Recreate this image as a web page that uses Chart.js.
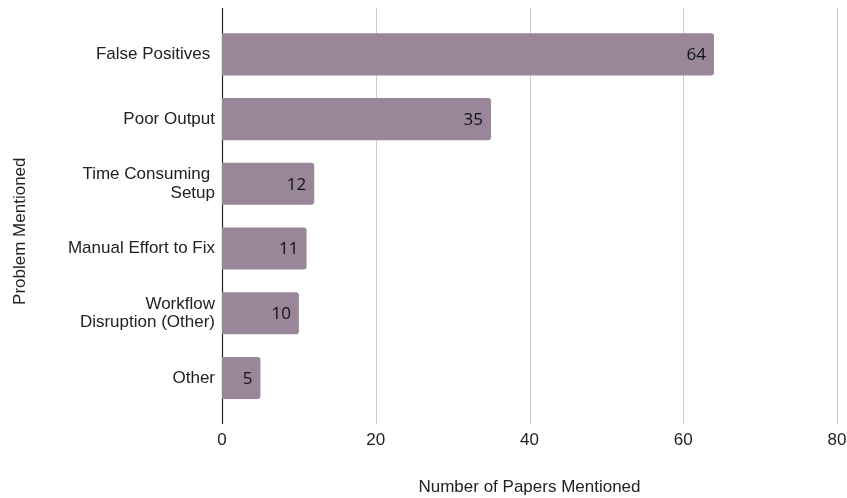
<!DOCTYPE html>
<html>
<head>
<meta charset="utf-8">
<script src="https://cdn.jsdelivr.net/npm/chart.js@4.4.1/dist/chart.umd.min.js"></script>
<style>
  html, body { margin: 0; padding: 0; background: #fff; }
  #wrap { width: 847px; height: 498px; }
</style>
</head>
<body>
<div id="wrap"><canvas id="problems"></canvas></div>
<script>
var problems = [
  "False Positives ",
  "Poor Output",
  ["Time Consuming ", "Setup"],
  "Manual Effort to Fix",
  ["Workflow", "Disruption (Other)"],
  "Other"
];
var papers = [64, 35, 12, 11, 10, 5];
var xTicks = [0, 20, 40, 60, 80];
var yTitle = 'Problem Mentioned';

// vertical grid lines run a bit past the bars, like the original
var gridLines = {
  id: 'gridLines',
  beforeDatasetsDraw: function(chart) {
    var c = chart.ctx;
    var x = chart.scales.x;
    c.save();
    xTicks.forEach(function(v) {
      var px = Math.round(x.getPixelForValue(v)) + 0.5;
      c.beginPath();
      c.strokeStyle = v === 0 ? '#222' : '#cccccc';
      c.lineWidth = v === 0 ? 1.2 : 1;
      c.moveTo(px, 8);
      c.lineTo(px, 424);
      c.stroke();
    });
    c.restore();
  }
};

var valueLabels = {
  id: 'valueLabels',
  afterDatasetsDraw: function(chart) {
    var c = chart.ctx;
    var meta = chart.getDatasetMeta(0);
    c.save();
    c.font = '17px "Open Sans"';
    c.fillStyle = '#111';
    c.textAlign = 'right';
    c.textBaseline = 'middle';
    meta.data.forEach(function(bar, i) {
      c.fillText(papers[i], bar.x - 8, bar.y + 1);
    });
    // y axis title sits a little below the middle of the plot
    var a = chart.chartArea;
    c.translate(20, (a.top + a.bottom) / 2 + 15);
    c.rotate(-Math.PI / 2);
    c.font = '17px "Liberation Sans"';
    c.fillStyle = '#222';
    c.textAlign = 'center';
    c.fillText(yTitle, 0, 0);
    c.restore();
  }
};

var ctx = document.getElementById('problems').getContext('2d');
var chart = new Chart(ctx, {
  type: 'bar',
  plugins: [gridLines, valueLabels],
  data: {
    labels: problems,
    datasets: [{
      data: papers,
      backgroundColor: '#9a8699',
      borderRadius: { topRight: 3, bottomRight: 3 },
      borderSkipped: 'start',
      categoryPercentage: 1,
      barPercentage: 0.65
    }]
  },
  options: {
    indexAxis: 'y',
    responsive: true,
    maintainAspectRatio: false,
    animation: false,
    layout: { padding: { top: 22, right: 10, left: 0, bottom: 0 } },
    plugins: {
      legend: { display: false },
      tooltip: { enabled: false }
    },
    scales: {
      x: {
        min: 0,
        max: 80,
        afterBuildTicks: function(axis) {
          axis.ticks = xTicks.map(function(v) { return { value: v }; });
        },
        afterFit: function(axis) {
          axis.height = 87.6;
          axis.paddingLeft = 0;
          axis.paddingRight = 0;
        },
        grid: { display: false, drawTicks: false },
        border: { display: false },
        ticks: {
          color: '#222',
          font: { family: 'Liberation Sans', size: 17 },
          padding: 20,
          maxRotation: 0
        },
        title: {
          display: true,
          text: 'Number of Papers Mentioned',
          color: '#222',
          font: { family: 'Liberation Sans', size: 17 },
          padding: { top: 0, bottom: 0 }
        }
      },
      y: {
        afterFit: function(axis) {
          axis.width = 222;
          axis.paddingTop = 0;
          axis.paddingBottom = 0;
        },
        grid: { display: false, drawTicks: false },
        border: { display: false },
        ticks: {
          color: '#222',
          font: { family: 'Liberation Sans', size: 17, lineHeight: 1.1 },
          padding: 7
        }
      }
    }
  }
});
</script>
</body>
</html>
